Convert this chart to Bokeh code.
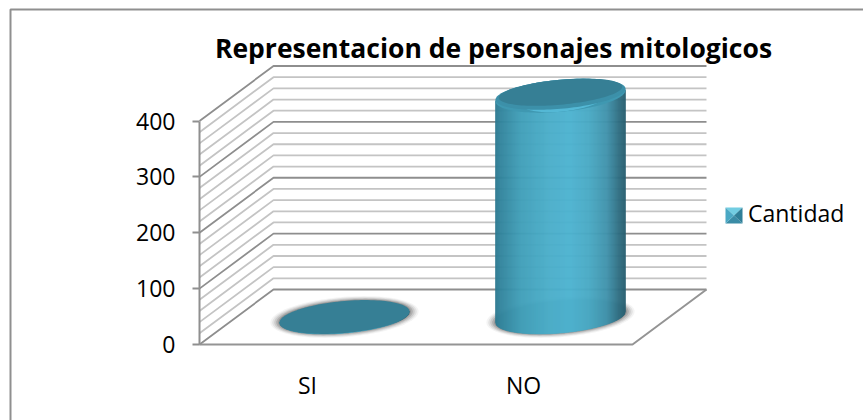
import numpy as np
from bokeh.embed import file_html
from bokeh.models import FixedTicker, Label, Legend, LegendItem, LinearAxis, Range1d
from bokeh.plotting import figure
from bokeh.resources import INLINE

# ---- data ----
TITLE = "Representacion de personajes mitologicos"
CATEGORIES = ["SI", "NO"]
CANTIDAD = [0, 396]
SERIES_NAME = "Cantidad"
Y_TICKS = [0, 100, 200, 300, 400]
GRID_VALUES = list(range(0, 420, 20))

# ---- geometry (window pixels) ----
W, H = 863, 420
ORIGIN_X, ORIGIN_Y = 344, 344      # first category, value 0 on the mid-depth floor
PX_PER_CAT, PX_PER_VALUE = 216, 0.55875
FONT = "Open Sans"


def ux(px):
    return (px - ORIGIN_X) / PX_PER_CAT


def vy(px):
    return (ORIGIN_Y - px) / PX_PER_VALUE


p = figure(width=W, height=H, output_backend="svg", toolbar_location=None,
           x_axis_type=None, y_axis_type=None,
           x_range=Range1d(ux(0), ux(W)), y_range=Range1d(vy(H), vy(0)),
           min_border_left=0, min_border_right=0, min_border_top=0, min_border_bottom=0,
           background_fill_color="white", border_fill_color="white",
           outline_line_color=None)
p.grid.visible = False

# ---- chart frame: only the top and left edges are inside the photograph ----
p.line([ux(10), ux(10), ux(W)], [vy(H), vy(9), vy(9)], line_color="#8f8f8f", line_width=2)

# ---- walls and floor ----
DEPTH_U, DEPTH_V = 74 / PX_PER_CAT, 55 / PX_PER_VALUE
LEFT_U, RIGHT_U = ux(199), ux(632)
MAJOR, MINOR = "#8e8e8e", "#c4c4c4"
for v in GRID_VALUES:
    major = v in Y_TICKS
    col, lw = (MAJOR, 1.8) if major else (MINOR, 1.8)
    p.line([LEFT_U, LEFT_U + DEPTH_U, RIGHT_U + DEPTH_U],
           [v, v + DEPTH_V, v + DEPTH_V], line_color=col, line_width=lw)
p.line([LEFT_U, RIGHT_U, RIGHT_U + DEPTH_U], [0, 0, DEPTH_V],
       line_color="#949494", line_width=2)

# ---- cylinders ----
RX_U, RY_V, SKEW_V = 65 / PX_PER_CAT, 16 / PX_PER_VALUE, 5.5 / PX_PER_VALUE
BASE_V = DEPTH_V / 2
STOP_POS = [0.00, 0.04, 0.20, 0.42, 0.58, 0.72, 0.86, 0.95, 1.00]
STOP_RGB = [(0x2c, 0x78, 0x8f), (0x31, 0x84, 0x9c), (0x40, 0x9f, 0xb9),
            (0x4a, 0xae, 0xca), (0x4c, 0xb2, 0xd0), (0x48, 0xa9, 0xc4),
            (0x3f, 0x92, 0xab), (0x2f, 0x6e, 0x82), (0x28, 0x5e, 0x70)]
T = np.linspace(0, 2 * np.pi, 121)


def ellipse(cu, cv, scale_u=1.0, scale_v=1.0):
    return (cu + RX_U * scale_u * np.cos(T),
            cv + SKEW_V * np.cos(T) + RY_V * scale_v * np.sin(T))


def lower(cu_offset, cv):
    f = np.clip(cu_offset / RX_U, -1, 1)
    return cv + SKEW_V * f - RY_V * np.sqrt(1 - f * f)


for i, val in enumerate(CANTIDAD):
    # soft shadow round the foot
    for s_u, s_v, a in [(1.14, 1.26, .06), (1.11, 1.20, .10), (1.08, 1.14, .14),
                        (1.05, 1.08, .2), (1.02, 1.03, .25)]:
        xs, ys = ellipse(i, BASE_V, s_u, s_v)
        p.patch(xs, ys, fill_color="#404040", fill_alpha=a, line_color=None)
    # body
    n = 130
    edges = np.linspace(-RX_U, RX_U, n + 1)
    sx, sy, cols = [], [], []
    top = BASE_V + val
    for a, b in zip(edges[:-1], edges[1:]):
        f = ((a + b) / 2 + RX_U) / (2 * RX_U)
        rgb = [int(np.interp(f, STOP_POS, [c[k] for c in STOP_RGB])) for k in range(3)]
        cols.append("#%02x%02x%02x" % tuple(rgb))
        sx.append([i + a, i + b, i + b, i + a])
        sy.append([lower(a, BASE_V), lower(b, BASE_V),
                   top + SKEW_V * b / RX_U, top + SKEW_V * a / RX_U])
    p.patches(sx, sy, fill_color=cols, line_color=cols, line_width=0.6)
    # top face
    if val > 0:
        xs, ys = ellipse(i, top)
        p.patch(xs, ys, fill_color="#3f98b1", line_color=None)
        xs, ys = ellipse(i + 0.02, top, 0.72, 0.97)
        p.patch(xs, ys, fill_color="#54b8d5", line_color=None)
        xs, ys = ellipse(i, top + 1.5 / PX_PER_VALUE, 1.0, 0.91)
        p.patch(xs, ys, fill_color="#3c90a9", line_color=None)
        xs, ys = ellipse(i, top + 3.5 / PX_PER_VALUE, 0.95, 0.78)
        p.patch(xs, ys, fill_color="#367f95", line_color=None)
    else:
        xs, ys = ellipse(i, top)
        p.patch(xs, ys, fill_color="#367f95", line_color=None)

# ---- legend with its small pyramid key ----
key = p.scatter([], [], fill_alpha=0, line_alpha=0)
kx0, kx1, ky0, ky1 = ux(725), ux(742), vy(223), vy(207)
kcx, kcy = (kx0 + kx1) / 2, (ky0 + ky1) / 2
p.patches([[kx0, kx1, kcx], [kx0, kx1, kcx], [kx0, kx0, kcx], [kx1, kx1, kcx]],
          [[ky1, ky1, kcy], [ky0, ky0, kcy], [ky0, ky1, kcy], [ky0, ky1, kcy]],
          fill_color=["#72cde2", "#3a8ca6", "#4aa8c4", "#2f7f98"], line_color=None)
legend = Legend(items=[LegendItem(label=SERIES_NAME, renderers=[key])],
                location=(725, 191), orientation="vertical",
                border_line_color=None, background_fill_alpha=0,
                label_text_font=FONT, label_text_font_size="23px",
                label_text_color="#000000", glyph_width=17, glyph_height=17,
                label_standoff=6, padding=0, margin=0)
p.add_layout(legend, "center")

# ---- axes ----
yaxis = LinearAxis(ticker=FixedTicker(ticks=Y_TICKS), bounds=(Y_TICKS[0], Y_TICKS[-1]),
                   fixed_location=LEFT_U,
                   axis_line_color="#8f8f8f", axis_line_width=2,
                   major_tick_line_color="#8f8f8f", major_tick_line_width=2,
                   major_tick_out=7, major_tick_in=0, minor_tick_out=0, minor_tick_in=0,
                   major_label_text_font=FONT, major_label_text_font_size="23px",
                   major_label_text_color="#000000", major_label_standoff=17)
p.add_layout(yaxis, "left")

xaxis = LinearAxis(ticker=FixedTicker(ticks=[i - DEPTH_U / 2 for i in range(len(CATEGORIES))]),
                   fixed_location=vy(357),
                   major_label_overrides={i - DEPTH_U / 2: c for i, c in enumerate(CATEGORIES)},
                   axis_line_color=None, major_tick_line_color=None, minor_tick_line_color=None,
                   major_label_text_font=FONT, major_label_text_font_size="23px",
                   major_label_text_color="#000000", major_label_standoff=5)
p.add_layout(xaxis, "below")

# ---- title ----
p.add_layout(Label(x=ux(493), y=vy(47), text=TITLE, text_align="center",
                   text_baseline="middle", text_font=FONT, text_font_style="bold",
                   text_font_size="26.5px", text_color="#000000"))

open("out.html", "w").write(file_html(p, INLINE))
